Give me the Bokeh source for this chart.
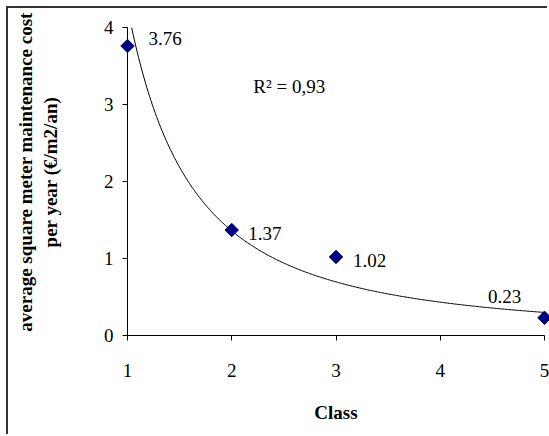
import numpy as np
from bokeh.plotting import figure
from bokeh.models import ColumnDataSource, FixedTicker, Range1d, Label
from bokeh.core.properties import value
from bokeh.embed import file_html
from bokeh.resources import INLINE

# ---- data ----
classes = [1, 2, 3, 5]
costs = [3.76, 1.37, 1.02, 0.23]
cost_labels = ["3.76", "1.37", "1.02", "0.23"]
x_ticks = [1, 2, 3, 4, 5]
y_ticks = [0, 1, 2, 3, 4]
r2_text = "R² = 0,93"
x_title = "Class"
y_title = "average square meter maintenance cost\nper year (€/m2/an)"

FONT = "Liberation Serif"
NAVY = "#000080"

p = figure(width=541, height=428, output_backend="svg", toolbar_location=None,
           x_range=Range1d(1, 5), y_range=Range1d(0, 4.247),
           min_border_left=119, min_border_right=5, min_border_top=0,
           min_border_bottom=101)
p.styles = {"margin-left": "8px", "margin-top": "8px",
            "box-shadow": "-2px -2px 0 0 #333333"}
p.outline_line_color = None
p.background_fill_color = "white"
p.border_fill_color = "white"
p.xgrid.grid_line_color = None
p.ygrid.grid_line_color = None

# power trend line fitted to the data (as Excel's power trendline)
b, ln_a = np.polyfit(np.log(classes), np.log(costs), 1)
a = np.exp(ln_a)
x_start = (max(y_ticks) / a) ** (1.0 / b)
xs = np.linspace(x_start, max(x_ticks), 300)
p.line(xs, a * xs ** b, line_color="black", line_width=1)

src = ColumnDataSource(dict(x=classes, y=costs, label=cost_labels,
                            dx=[21, 16.6, 17, -56.5], dy=[-7, 3.5, 3.2, -21]))
r = p.scatter("x", "y", source=src, marker="square", angle=np.pi / 4, size=9.5,
              fill_color=NAVY, line_color=NAVY)
r.level = "overlay"
t = p.text("x", "y", text="label", source=src, x_offset="dx", y_offset="dy",
           text_font=value(FONT), text_font_size="19px", text_color="black",
           text_align="left", text_baseline="middle")
t.level = "overlay"

p.add_layout(Label(x=2.207, y=3.234, text=r2_text, text_font=FONT,
                   text_font_size="19px", text_color="black",
                   text_baseline="alphabetic"))

for ax in (p.xaxis[0], p.yaxis[0]):
    ax.axis_line_color = "black"
    ax.axis_line_width = 1
    ax.major_tick_line_color = "black"
    ax.major_tick_in = 0
    ax.major_tick_out = 5
    ax.minor_tick_line_color = None
    ax.major_label_text_font = FONT
    ax.major_label_text_font_size = "19px"
    ax.major_label_text_color = "black"
    ax.axis_label_text_font = FONT
    ax.axis_label_text_font_size = "19px"
    ax.axis_label_text_font_style = "bold"
    ax.axis_label_text_color = "black"

p.xaxis.ticker = FixedTicker(ticks=x_ticks)
p.yaxis.ticker = FixedTicker(ticks=y_ticks)
p.yaxis.bounds = (0, 4)
p.xaxis.axis_label = x_title
p.yaxis.axis_label = y_title
p.xaxis.major_label_standoff = 23
p.xaxis.axis_label_standoff = 22
p.yaxis.major_label_standoff = 9
p.yaxis.axis_label_standoff = 40

open("out.html", "w").write(file_html(p, INLINE))
